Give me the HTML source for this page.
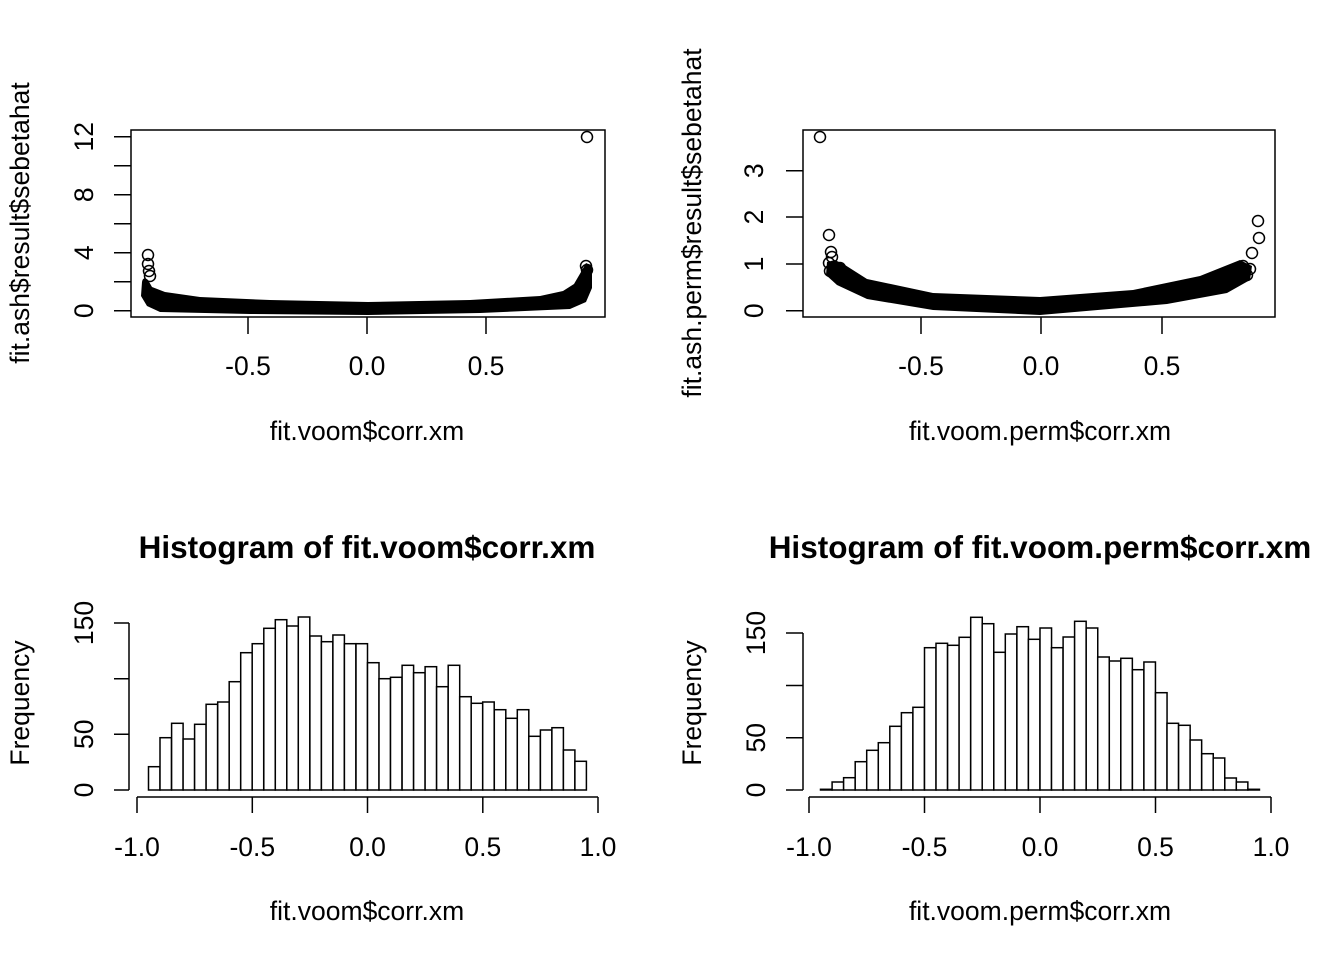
<!DOCTYPE html>
<html><head><meta charset="utf-8"><style>
html,body{margin:0;padding:0;background:#fff;}
svg{display:block;font-family:"Liberation Sans",Arial,sans-serif;}
</style></head><body>
<svg width="1344" height="960" viewBox="0 0 1344 960" xmlns="http://www.w3.org/2000/svg">
<rect width="1344" height="960" fill="#fff"/>
<g stroke="#000" stroke-width="1.5" fill="none">
<rect x="131" y="130" width="474" height="187"/>
<path d="M131 310.7H114M131 281.7H114M131 252.7H114M131 223.7H114M131 194.7H114M131 165.7H114M131 136.7H114"/>
<path d="M248 317V334M367 317V334M486 317V334"/>
<rect x="803" y="130" width="472" height="187"/>
<path d="M803 310.7H786M803 264H786M803 217H786M803 170.7H786"/>
<path d="M921 317V334M1041 317V334M1162 317V334"/>
<path d="M129 623V790M129 790H114M129 734.3H114M129 678.7H114M129 623H114"/>
<path d="M137 797H598M137 797V813M252.3 797V813M367.5 797V813M482.8 797V813M598 797V813"/>
<path d="M803 633V790M803 790H786M803 737.7H786M803 685.5H786M803 633H786"/>
<path d="M809 797H1271M809 797V813M924.5 797V813M1040 797V813M1155.5 797V813M1271 797V813"/>
</g>
<path d="M142 282 Q143 276 148 280 L152 287 L165 292 L200 297 L270 300 L368 302 L470 300 L540 296 L563 291 L574 284 L581 272 L586 263 L592 266 L592 288 L586 302 L570 309 L480 313 L368 315 L250 314 L160 312 L147 306 L141 296 Z" fill="#000"/>
<g fill="none" stroke="#000" stroke-width="1.5">
<circle cx="148" cy="255" r="5.5"/><circle cx="148" cy="264" r="5.5"/><circle cx="149" cy="271" r="5.5"/><circle cx="150" cy="276" r="5.5"/>
<circle cx="586" cy="266" r="5.5"/><circle cx="587" cy="270" r="5.5"/><circle cx="587" cy="137" r="5.5"/>
</g>
<path d="M827 262 L835 260 L845 265 L867 279 L933 293 L1040 297 L1133 290 L1200 276 L1240 260 L1252 266 L1250 280 L1227 293 L1167 304 L1040 315 L933 310 L867 299 L837 285 L826 275 Z" fill="#000"/>
<g fill="none" stroke="#000" stroke-width="1.5">
<circle cx="820" cy="137" r="5.5"/><circle cx="829" cy="235" r="5.5"/><circle cx="831" cy="252" r="5.5"/><circle cx="832" cy="257" r="5.5"/><circle cx="829" cy="263" r="5.5"/><circle cx="830" cy="271" r="5.5"/><circle cx="840" cy="268" r="5.5"/>
<circle cx="1258" cy="221" r="5.5"/><circle cx="1259" cy="238" r="5.5"/><circle cx="1252" cy="253" r="5.5"/><circle cx="1243" cy="266" r="5.5"/><circle cx="1247" cy="275" r="5.5"/><circle cx="1250" cy="269" r="5.5"/>
</g>
<g fill="#fff" stroke="#000" stroke-width="1.5">
<rect x="148.5" y="766.7" width="11.5" height="23.3"/>
<rect x="160.0" y="737.7" width="11.5" height="52.3"/>
<rect x="171.6" y="723.3" width="11.5" height="66.7"/>
<rect x="183.1" y="739.0" width="11.5" height="51.0"/>
<rect x="194.6" y="724.3" width="11.5" height="65.7"/>
<rect x="206.1" y="704.3" width="11.5" height="85.7"/>
<rect x="217.7" y="702.0" width="11.5" height="88.0"/>
<rect x="229.2" y="681.7" width="11.5" height="108.3"/>
<rect x="240.7" y="652.7" width="11.5" height="137.3"/>
<rect x="252.2" y="643.7" width="11.5" height="146.3"/>
<rect x="263.8" y="628.3" width="11.5" height="161.7"/>
<rect x="275.3" y="619.7" width="11.5" height="170.3"/>
<rect x="286.8" y="626.0" width="11.5" height="164.0"/>
<rect x="298.3" y="617.0" width="11.5" height="173.0"/>
<rect x="309.9" y="636.0" width="11.5" height="154.0"/>
<rect x="321.4" y="641.7" width="11.5" height="148.3"/>
<rect x="332.9" y="635.0" width="11.5" height="155.0"/>
<rect x="344.4" y="643.7" width="11.5" height="146.3"/>
<rect x="356.0" y="643.7" width="11.5" height="146.3"/>
<rect x="367.5" y="662.7" width="11.5" height="127.3"/>
<rect x="379.0" y="678.7" width="11.5" height="111.3"/>
<rect x="390.5" y="677.3" width="11.5" height="112.7"/>
<rect x="402.1" y="665.3" width="11.5" height="124.7"/>
<rect x="413.6" y="672.7" width="11.5" height="117.3"/>
<rect x="425.1" y="666.7" width="11.5" height="123.3"/>
<rect x="436.6" y="686.7" width="11.5" height="103.3"/>
<rect x="448.2" y="665.3" width="11.5" height="124.7"/>
<rect x="459.7" y="696.7" width="11.5" height="93.3"/>
<rect x="471.2" y="703.3" width="11.5" height="86.7"/>
<rect x="482.7" y="702.0" width="11.5" height="88.0"/>
<rect x="494.3" y="709.7" width="11.5" height="80.3"/>
<rect x="505.8" y="718.3" width="11.5" height="71.7"/>
<rect x="517.3" y="709.7" width="11.5" height="80.3"/>
<rect x="528.8" y="736.3" width="11.5" height="53.7"/>
<rect x="540.4" y="730.0" width="11.5" height="60.0"/>
<rect x="551.9" y="727.7" width="11.5" height="62.3"/>
<rect x="563.4" y="750.0" width="11.5" height="40.0"/>
<rect x="574.9" y="761.3" width="11.5" height="28.7"/>
</g>
<g fill="#fff" stroke="#000" stroke-width="1.5">
<rect x="820.5" y="789.3" width="11.55" height="0.7"/>
<rect x="832.1" y="782.0" width="11.55" height="8.0"/>
<rect x="843.6" y="777.7" width="11.55" height="12.3"/>
<rect x="855.2" y="761.7" width="11.55" height="28.3"/>
<rect x="866.7" y="750.3" width="11.55" height="39.7"/>
<rect x="878.3" y="742.7" width="11.55" height="47.3"/>
<rect x="889.8" y="726.3" width="11.55" height="63.7"/>
<rect x="901.4" y="712.7" width="11.55" height="77.3"/>
<rect x="912.9" y="707.3" width="11.55" height="82.7"/>
<rect x="924.5" y="647.7" width="11.55" height="142.3"/>
<rect x="936.0" y="643.3" width="11.55" height="146.7"/>
<rect x="947.6" y="645.3" width="11.55" height="144.7"/>
<rect x="959.1" y="637.3" width="11.55" height="152.7"/>
<rect x="970.7" y="617.3" width="11.55" height="172.7"/>
<rect x="982.2" y="623.7" width="11.55" height="166.3"/>
<rect x="993.8" y="652.3" width="11.55" height="137.7"/>
<rect x="1005.3" y="634.0" width="11.55" height="156.0"/>
<rect x="1016.9" y="626.7" width="11.55" height="163.3"/>
<rect x="1028.4" y="639.3" width="11.55" height="150.7"/>
<rect x="1040.0" y="628.0" width="11.55" height="162.0"/>
<rect x="1051.5" y="647.7" width="11.55" height="142.3"/>
<rect x="1063.1" y="637.0" width="11.55" height="153.0"/>
<rect x="1074.6" y="621.3" width="11.55" height="168.7"/>
<rect x="1086.2" y="628.0" width="11.55" height="162.0"/>
<rect x="1097.7" y="657.0" width="11.55" height="133.0"/>
<rect x="1109.3" y="661.0" width="11.55" height="129.0"/>
<rect x="1120.8" y="658.3" width="11.55" height="131.7"/>
<rect x="1132.4" y="669.7" width="11.55" height="120.3"/>
<rect x="1143.9" y="662.0" width="11.55" height="128.0"/>
<rect x="1155.5" y="692.7" width="11.55" height="97.3"/>
<rect x="1167.0" y="723.3" width="11.55" height="66.7"/>
<rect x="1178.6" y="725.3" width="11.55" height="64.7"/>
<rect x="1190.1" y="740.0" width="11.55" height="50.0"/>
<rect x="1201.7" y="753.7" width="11.55" height="36.3"/>
<rect x="1213.2" y="758.0" width="11.55" height="32.0"/>
<rect x="1224.8" y="778.0" width="11.55" height="12.0"/>
<rect x="1236.3" y="782.0" width="11.55" height="8.0"/>
<rect x="1247.9" y="789.3" width="11.55" height="0.7"/>
</g>
<g font-size="26.5" fill="#000" text-anchor="middle">
<text x="248" y="375">-0.5</text><text x="367" y="375">0.0</text><text x="486" y="375">0.5</text>
<text x="921" y="375">-0.5</text><text x="1041" y="375">0.0</text><text x="1162" y="375">0.5</text>
<text x="367" y="440">fit.voom$corr.xm</text>
<text x="1040" y="440">fit.voom.perm$corr.xm</text>
<text x="137" y="856">-1.0</text><text x="252.3" y="856">-0.5</text><text x="367.5" y="856">0.0</text><text x="482.8" y="856">0.5</text><text x="598" y="856">1.0</text>
<text x="809" y="856">-1.0</text><text x="924.5" y="856">-0.5</text><text x="1040" y="856">0.0</text><text x="1155.5" y="856">0.5</text><text x="1271" y="856">1.0</text>
<text x="367" y="920">fit.voom$corr.xm</text>
<text x="1040" y="920">fit.voom.perm$corr.xm</text>
<text x="93" y="310.7" transform="rotate(-90 93 310.7)">0</text>
<text x="93" y="252.7" transform="rotate(-90 93 252.7)">4</text>
<text x="93" y="194.7" transform="rotate(-90 93 194.7)">8</text>
<text x="93" y="136.7" transform="rotate(-90 93 136.7)">12</text>
<text x="763" y="310.7" transform="rotate(-90 763 310.7)">0</text>
<text x="763" y="264" transform="rotate(-90 763 264)">1</text>
<text x="763" y="217" transform="rotate(-90 763 217)">2</text>
<text x="763" y="170.7" transform="rotate(-90 763 170.7)">3</text>
<text x="93" y="790" transform="rotate(-90 93 790)">0</text>
<text x="93" y="734.3" transform="rotate(-90 93 734.3)">50</text>
<text x="93" y="623" transform="rotate(-90 93 623)">150</text>
<text x="765" y="790" transform="rotate(-90 765 790)">0</text>
<text x="765" y="737.7" transform="rotate(-90 765 737.7)">50</text>
<text x="765" y="633" transform="rotate(-90 765 633)">150</text>
<text x="29" y="223" transform="rotate(-90 29 223)">fit.ash$result$sebetahat</text>
<text x="701" y="223" transform="rotate(-90 701 223)">fit.ash.perm$result$sebetahat</text>
<text x="29" y="703" transform="rotate(-90 29 703)">Frequency</text>
<text x="701" y="703" transform="rotate(-90 701 703)">Frequency</text>
</g>
<g font-size="31.5" font-weight="bold" text-anchor="middle">
<text x="367" y="558">Histogram of fit.voom$corr.xm</text>
<text x="1040" y="558">Histogram of fit.voom.perm$corr.xm</text>
</g>
</svg>
</body></html>
